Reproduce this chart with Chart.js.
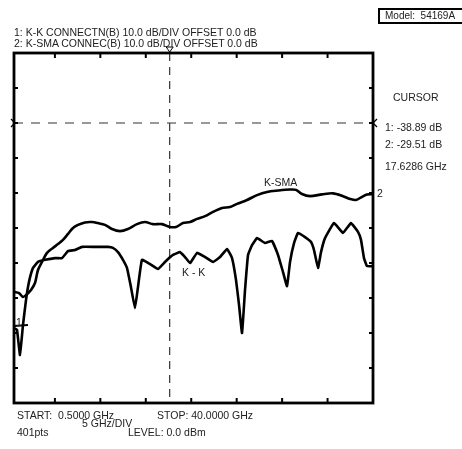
<!DOCTYPE html>
<html>
<head>
<meta charset="utf-8">
<script src="https://cdn.jsdelivr.net/npm/chart.js@4.4.1/dist/chart.umd.min.js"></script>
<style>
    body { margin: 0; background: #fff; }
    #wrap { position: relative; width: 462px; height: 449px; font-family: "Liberation Sans", Arial, sans-serif; font-size: 10.5px; color: #222; }
    #wrap canvas { position: absolute; left: 0; top: 0; }
    .t { position: absolute; white-space: pre; line-height: 12px; }
    #model { position: absolute; left: 378px; top: 8px; width: 78px; height: 12px; border: 2px solid #000; padding-left: 5px; line-height: 12px; white-space: pre; font-size: 10px; }
</style>
</head>
<body>
<div id="wrap">
    <canvas id="chart" width="462" height="449"></canvas>
    <div id="model">Model:  54169A</div>
    <div class="t" style="left:14px;top:26px">1: K-K CONNECTN(B) 10.0 dB/DIV OFFSET 0.0 dB</div>
    <div class="t" style="left:14px;top:37px">2: K-SMA CONNEC(B) 10.0 dB/DIV OFFSET 0.0 dB</div>
    <div class="t" style="left:393px;top:91px">CURSOR</div>
    <div class="t" style="left:385px;top:121px">1: -38.89 dB</div>
    <div class="t" style="left:385px;top:138px">2: -29.51 dB</div>
    <div class="t" style="left:385px;top:160px">17.6286 GHz</div>
    <div class="t" style="left:377px;top:187px">2</div>
    <div class="t" style="left:16px;top:316px">1</div>
    <div class="t" style="left:264px;top:176px">K-SMA</div>
    <div class="t" style="left:182px;top:266px">K - K</div>
    <div class="t" style="left:17px;top:409px">START:  0.5000 GHz</div>
    <div class="t" style="left:157px;top:409px">STOP: 40.0000 GHz</div>
    <div class="t" style="left:82px;top:417px">5 GHz/DIV</div>
    <div class="t" style="left:17px;top:426px">401pts</div>
    <div class="t" style="left:128px;top:426px">LEVEL: 0.0 dBm</div>
</div>
<script>
// trace 1: K-K connection (GHz / dB)
const kkFreq = [0.5, 0.83, 1.16, 1.49, 1.82, 2.15, 2.59, 3.14, 3.91, 5.01, 5.78, 6.44, 7.21, 7.98, 9.41, 10.84, 11.39, 11.94, 12.49, 12.93,
    13.37, 13.81, 14.14, 14.58, 15.46, 16.34, 17.11, 17.99, 18.76, 19.32, 19.87, 20.64, 21.52, 22.40, 23.17, 23.94, 24.49, 24.93, 25.26, 25.59,
    25.92, 26.25, 26.69, 27.24, 28.12, 28.89, 29.55, 30.10, 30.54, 30.87, 31.31, 31.75, 32.52, 33.18, 33.51, 33.95, 34.28, 34.72, 35.71, 36.70,
    37.58, 38.35, 38.68, 39.01, 39.34, 40.0];
const kkDb = [-58.6, -59.1, -66.3, -57.7, -50.6, -45.4, -41.4, -39.7, -39.1, -38.6, -38.6, -36.6, -36.3, -35.4, -35.4, -35.4, -35.7, -36.9, -39.1, -41.4,
    -46.9, -52.9, -46.9, -39.1, -40.3, -41.7, -39.7, -37.7, -36.9, -38.3, -40.0, -37.1, -38.3, -39.7, -38.3, -36.0, -38.6, -44.9, -52.0, -60.0,
    -47.7, -37.7, -34.9, -32.9, -34.3, -33.7, -37.7, -42.6, -46.6, -39.7, -34.3, -31.4, -32.6, -34.0, -36.3, -41.4, -36.9, -32.9, -28.6, -31.4,
    -28.6, -31.1, -33.4, -38.6, -40.9, -40.9];

// trace 2: K-SMA connection
const smaFreq = [0.5, 1.05, 1.49, 1.93, 2.37, 2.81, 3.14, 3.58, 4.13, 4.79, 5.34, 5.89, 6.44, 6.99, 7.54, 8.31, 9.08, 9.74, 10.51, 11.28,
    12.16, 13.04, 14.03, 14.91, 15.79, 16.78, 17.66, 18.32, 19.10, 19.87, 20.64, 21.52, 22.40, 23.39, 24.27, 25.04, 26.14, 27.24, 28.34, 29.55,
    30.87, 31.53, 32.19, 33.07, 34.39, 35.60, 36.70, 37.47, 38.13, 38.79, 39.34, 40.0];
const smaDb = [-48.3, -48.6, -49.7, -48.9, -47.7, -45.7, -42.0, -39.7, -37.1, -35.7, -34.6, -33.4, -31.7, -30.0, -29.1, -28.4, -28.3, -28.6, -29.1, -30.3,
    -30.9, -30.3, -28.9, -28.3, -28.9, -28.9, -29.7, -29.7, -28.6, -28.3, -27.4, -26.6, -25.4, -24.3, -24.0, -23.1, -22.0, -20.6, -19.7, -19.3,
    -19.0, -19.1, -20.3, -20.9, -20.4, -20.1, -20.9, -21.7, -22.0, -21.1, -20.4, -20.3];

// axis divisions
const xTicks = [5, 10, 15, 20, 25, 30, 35];
const yTicks = [10, 0, -10, -20, -30, -40, -50, -60, -70];
const startFreq = 0.5;
const stopFreq = 40;
const topDb = 20;
const bottomDb = -80;
const cursorFreq = 17.6286;
const refLevel = 0;
const marker1Db = -58;

const toPoints = (fs, vs) => fs.map((f, i) => ({ x: f, y: vs[i] }));

// border, inward tick marks and small markers
const framePlugin = {
    id: 'frame',
    afterDatasetsDraw(chart) {
        const { ctx, chartArea: a, scales: { x, y } } = chart;
        const line = (x1, y1, x2, y2) => {
            ctx.beginPath();
            ctx.moveTo(x1, y1);
            ctx.lineTo(x2, y2);
            ctx.stroke();
        };
        ctx.save();
        ctx.strokeStyle = '#000';
        ctx.lineWidth = 2.8;
        ctx.strokeRect(a.left, a.top, a.right - a.left, a.bottom - a.top);

        ctx.lineWidth = 2;
        xTicks.forEach(v => {
            const px = x.getPixelForValue(v);
            line(px, a.top, px, a.top + 5);
            line(px, a.bottom, px, a.bottom - 5);
        });
        yTicks.forEach(v => {
            const py = y.getPixelForValue(v);
            line(a.left, py, a.left + 4, py);
            line(a.right, py, a.right - 4, py);
        });

        // cursor triangle above the plot
        const cx = x.getPixelForValue(cursorFreq);
        ctx.lineWidth = 1;
        ctx.beginPath();
        ctx.moveTo(cx - 3.5, a.top - 6);
        ctx.lineTo(cx + 3.5, a.top - 6);
        ctx.lineTo(cx, a.top - 1);
        ctx.closePath();
        ctx.stroke();

        // reference level markers
        const ry = y.getPixelForValue(refLevel);
        ctx.lineWidth = 1.2;
        line(a.left - 3, ry - 4, a.left + 1, ry);
        line(a.left - 3, ry + 4, a.left + 1, ry);
        line(a.right + 4, ry - 4, a.right, ry);
        line(a.right + 4, ry + 4, a.right, ry);

        // trace 1 marker
        const my = y.getPixelForValue(marker1Db);
        ctx.lineWidth = 2;
        line(a.left, my, a.left + 14, my - 1);
        ctx.restore();
    }
};

new Chart(document.getElementById('chart'), {
    type: 'line',
    data: {
        datasets: [
            {
                label: 'K-K',
                data: toPoints(kkFreq, kkDb),
                borderColor: '#000',
                borderWidth: 2.6,
                pointRadius: 0,
                tension: 0.1
            },
            {
                label: 'K-SMA',
                data: toPoints(smaFreq, smaDb),
                borderColor: '#000',
                borderWidth: 2.6,
                pointRadius: 0,
                tension: 0.3
            },
            {
                label: 'ref',
                data: [{ x: startFreq, y: refLevel }, { x: stopFreq, y: refLevel }],
                borderColor: '#333',
                borderWidth: 1.2,
                borderDash: [9, 8],
                pointRadius: 0
            },
            {
                label: 'cursor',
                data: [{ x: cursorFreq, y: topDb }, { x: cursorFreq, y: bottomDb }],
                borderColor: '#333',
                borderWidth: 1.2,
                borderDash: [8, 6],
                pointRadius: 0
            }
        ]
    },
    options: {
        responsive: false,
        animation: false,
        layout: { padding: { left: 14, top: 53, right: 89, bottom: 46 } },
        plugins: {
            legend: { display: false },
            tooltip: { enabled: false }
        },
        scales: {
            x: { type: 'linear', min: startFreq, max: stopFreq, display: false },
            y: { type: 'linear', min: bottomDb, max: topDb, display: false }
        }
    },
    plugins: [framePlugin]
});
</script>
</body>
</html>
